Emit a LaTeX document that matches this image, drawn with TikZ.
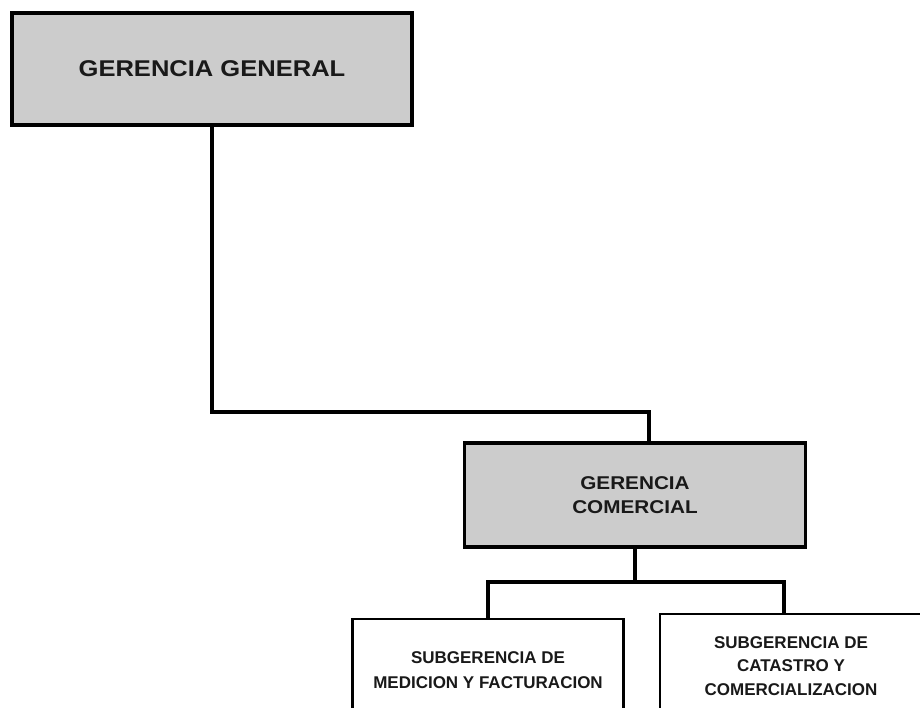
\documentclass[tikz,border=0pt]{standalone}
\usepackage{fontspec}
\setmainfont{Liberation Sans}
\newfontfamily\orgfont[FakeStretch=1.12]{Liberation Sans}
\usetikzlibrary{positioning}

\begin{document}
\begin{tikzpicture}[x=1pt, y=-1pt,
    gerbox/.style={draw=black, line width=3.6pt, fill=black!20, align=center,
      inner sep=0pt, text=black!90, font=\orgfont\bfseries},
    subbox/.style={draw=black, line width=2.6pt, fill=white, align=center,
      inner sep=0pt, text=black!90, font=\bfseries\fontsize{17}{25}\selectfont},
    link/.style={line width=3.2pt, line cap=rect}]
      % Page frame
      \path[use as bounding box, clip] (0,0) rectangle (920,708);
      \fill[white] (0,0) rectangle (920,708);

      % Top level
      \node[gerbox, minimum width=400pt, minimum height=112pt,
        font=\orgfont\bfseries\fontsize{22.8}{26}\selectfont]
        (gg) at (212,69) {GERENCIA GENERAL};

      % Commercial management
      \node[gerbox, minimum width=341pt, minimum height=104pt,
        font=\orgfont\bfseries\fontsize{18.5}{24}\selectfont]
        (gc) at (635,495) {GERENCIA\\COMERCIAL};

      % Sub units
      \node[subbox, minimum width=271pt, minimum height=102pt] (sm) at (488,670)
        {SUBGERENCIA DE\\MEDICION Y FACTURACION};
      \node[subbox, minimum width=262pt, minimum height=104pt,
        font=\bfseries\fontsize{17}{23.5}\selectfont] (sc) at (791,666)
        {SUBGERENCIA DE\\CATASTRO Y\\COMERCIALIZACION};

      % Connectors
      \coordinate (gcin) at ([xshift=14pt]gc.north);
      \coordinate (elbow) at (649,412);
      \coordinate (bus) at (635,582);
      \coordinate (scin) at ([xshift=-7pt]sc.north);
      \draw[link] (gg.south) |- (elbow) -- (gcin);
      \draw[link] (gc.south) -- (bus);
      \draw[link] (sm.north) |- (bus) -| (scin);
    \end{tikzpicture}
\end{document}
